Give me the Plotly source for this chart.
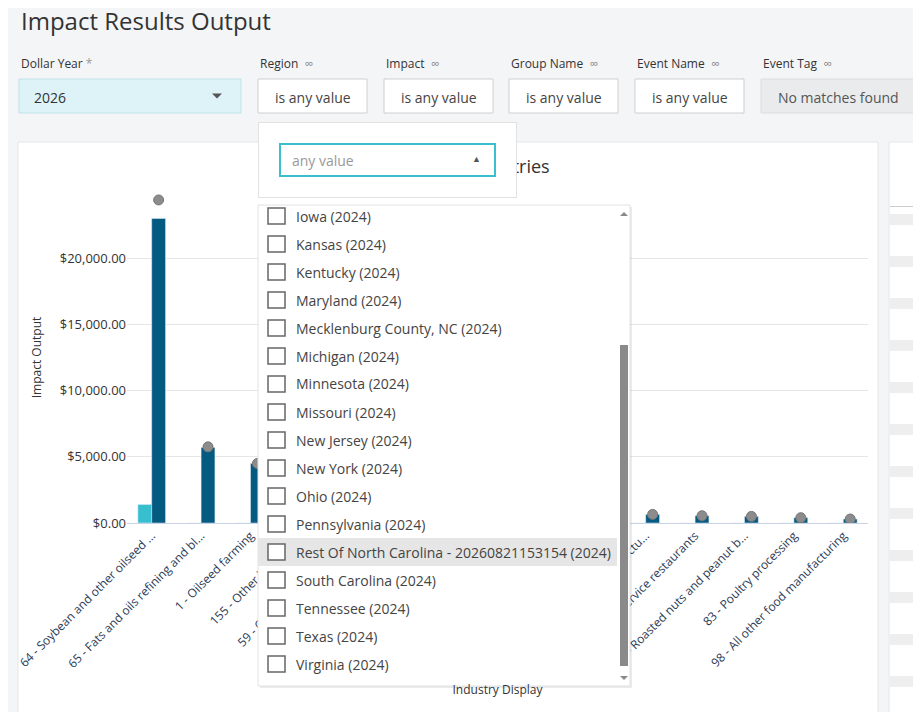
import numpy as np
import plotly.graph_objects as go

W, H = 921, 712
PAD = 8  # page body margin around the figure
FONT = "Open Sans"

industries = [
    "64 - Soybean and other oilseed ...",
    "65 - Fats and oils refining and bl...",
    "1 - Oilseed farming",
    "155 - Other basic org...",
    "59 - Other animal food ma...",
    "10 - Grain farming",
    "395 - Wholesale trade",
    "447 - Real estate",
    "11 - Support activities for ...",
    "408 - Truck transportation",
    "90 - Flavoring syrup manufactu...",
    "502 - Limited-service restaurants",
    "67 - Roasted nuts and peanut b...",
    "83 - Poultry processing",
    "98 - All other food manufacturing",
]
direct_output = [1400, 0, 0, 0, 0, 0, 0, 0, 0, 0, 0, 0, 0, 0, 0]
total_output = [23000, 5700, 4500, 2300, 1500, 1300, 1200, 1000, 900, 800, 650, 550, 500, 400, 300]
marker_output = [24400, 5750, 4500, 2300, 1500, 1300, 1200, 1000, 900, 800, 650, 550, 500, 400, 300]

y_ticks = [0, 5000, 10000, 15000, 20000]

dollar_years = ["2026"]
filters = ["Region", "Impact", "Group Name", "Event Name"]
regions = [
    "Iowa (2024)", "Kansas (2024)", "Kentucky (2024)", "Maryland (2024)",
    "Mecklenburg County, NC (2024)", "Michigan (2024)", "Minnesota (2024)",
    "Missouri (2024)", "New Jersey (2024)", "New York (2024)", "Ohio (2024)",
    "Pennsylvania (2024)", "Rest Of North Carolina - 20260821153154 (2024)",
    "South Carolina (2024)", "Tennessee (2024)", "Texas (2024)", "Virginia (2024)",
]
highlighted = "Rest Of North Carolina - 20260821153154 (2024)"


def px(x):
    return (x - PAD) / W


def py(y):
    return 1 - (y - PAD) / H


shapes = []
annotations = []


def rect(x0, y0, x1, y1, fill, line=None, lw=1, layer="above"):
    shapes.append(dict(type="rect", xref="paper", yref="paper",
                       x0=px(x0), x1=px(x1), y0=py(y1), y1=py(y0),
                       fillcolor=fill, line=dict(color=line or fill, width=lw if line else 0),
                       layer=layer))


def text(x, y, s, size=13, color="#333333", anchor="left", **kw):
    annotations.append(dict(xref="paper", yref="paper", x=px(x), y=py(y), text=s,
                            showarrow=False, xanchor=anchor, yanchor="middle",
                            font=dict(family=FONT, size=size, color=color), **kw))


def box(x0, y0, x1, y1, fill, border, bw=1, s="", size=14, color="#999999"):
    # annotation box so it can cover other annotations
    annotations.append(dict(xref="paper", yref="paper", x=px(x0), y=py(y0),
                            xanchor="left", yanchor="top", showarrow=False,
                            width=x1 - x0 - 2 * bw, height=y1 - y0 - 2 * bw,
                            text=s, align="left", valign="middle", borderpad=0,
                            bgcolor=fill, bordercolor=border, borderwidth=bw,
                            font=dict(family=FONT, size=size, color=color)))


def tri(cx, cy, up, color="#555555", s=5):
    d = -1 if up else 1
    path = (f"M {px(cx - s)} {py(cy - d * s / 2)} L {px(cx + s)} {py(cy - d * s / 2)} "
            f"L {px(cx)} {py(cy + d * s / 2)} Z")
    shapes.append(dict(type="path", xref="paper", yref="paper", path=path,
                       fillcolor=color, line=dict(width=0), layer="above"))


# page background pieces (below traces)
rect(18, 142, 878, 730, "white", "#e4e6e9", layer="below")
rect(889, 142, 940, 730, "white", "#e4e6e9", layer="below")
rect(890, 206, 921, 207, "#cccccc", layer="below")
for i, yy in enumerate(range(214, 712, 21)):
    if i % 2 == 0:
        rect(890, yy, 921, yy + 11, "#eeeeee", layer="below")

# chart title (partly hidden by the dropdown drawn later)
text(448, 166, "Top Impacted Industries", size=18, anchor="center")

# header + filters
text(19, 21, "Impact Results Output", size=24, color="#333333")
text(19, 64, "Dollar Year <span style='color:#999'>*</span>", size=12)
rect(19, 79, 241, 113, "#def3f7", "#bfe3ea")
text(32, 97, dollar_years[0], size=14)
tri(217, 96, False)
xs = [258, 384, 509, 635]
for x0, name in zip(xs, filters):
    text(x0, 64, name + "  <span style='color:#888'>∞</span>", size=12)
    rect(x0, 79, x0 + 109, 113, "white", "#cfcfcf")
    text(x0 + 55, 97, "is any value", size=14, color="#444444", anchor="center")
text(761, 64, "Event Tag  <span style='color:#888'>∞</span>", size=12)
rect(761, 79, 915, 113, "#e9ebed", "#dddddd")
text(838, 97, "No matches found", size=14, color="#555555", anchor="center")

# dropdown search panel
box(258, 122, 517, 198, "white", "#e2e2e2")
box(279, 143, 496, 177, "white", "#3bbfcf", bw=2, s="   any value")
text(476, 159, "▲", size=9, color="#555555", anchor="center")

# dropdown list panel
rect(260, 207, 632, 688, "rgba(0,0,0,0.08)")
rect(258, 205, 630, 686, "white", "#e2e2e2")
for i, r in enumerate(regions):
    cy = 216 + 28 * i
    if r == highlighted:
        rect(258, cy - 14, 617, cy + 14, "#e6e6e6")
    rect(268, cy - 8, 285, cy + 8, "white", "#666666", lw=1.5)
    text(294, cy, r, size=14, color="#444444")
rect(620, 345, 628, 666, "#8a8a8a")
tri(624, 214, True, "#888888", 4)
tri(624, 678, False, "#888888", 4)

x = np.arange(len(industries))

fig = go.Figure()
fig.add_trace(go.Bar(x=x, y=direct_output, width=0.28, offset=-0.28,
                     marker_color="#37bfd0", name="Direct"))
fig.add_trace(go.Bar(x=x, y=total_output, width=0.28, offset=0,
                     marker_color="#045a80", name="Total"))
fig.add_trace(go.Scatter(x=x + 0.14, y=marker_output, mode="markers",
                         marker=dict(color="#8c8c8c", size=10, line=dict(color="#777", width=1)),
                         name="Marker"))

fig.update_layout(
    width=W, height=H,
    margin=dict(l=0, r=0, t=0, b=0, autoexpand=False),
    paper_bgcolor="#f4f5f7", plot_bgcolor="white",
    showlegend=False,
    font=dict(family=FONT, color="#333333"),
    shapes=shapes, annotations=annotations,
    xaxis=dict(domain=[px(127), px(868)], range=[-0.5, len(industries) - 0.5],
               tickvals=list(x), ticktext=industries, tickangle=-45, automargin=False,
               tickfont=dict(size=12, color="#2b3a55"), showgrid=False,
               showline=True, linecolor="#c8d4e6",
               title=dict(text="Industry Display", font=dict(size=12), standoff=15)),
    yaxis=dict(domain=[py(523), py(192)], range=[0, 25000], automargin=False,
               tickvals=y_ticks, ticktext=[f"${v:,.2f}" for v in y_ticks],
               tickfont=dict(size=13, color="#333333"), gridcolor="#e6e6e6",
               zeroline=False, ticks="", ticklen=8,
               title=dict(text="Impact Output", font=dict(size=12))),
)

fig.write_html("out.html")
